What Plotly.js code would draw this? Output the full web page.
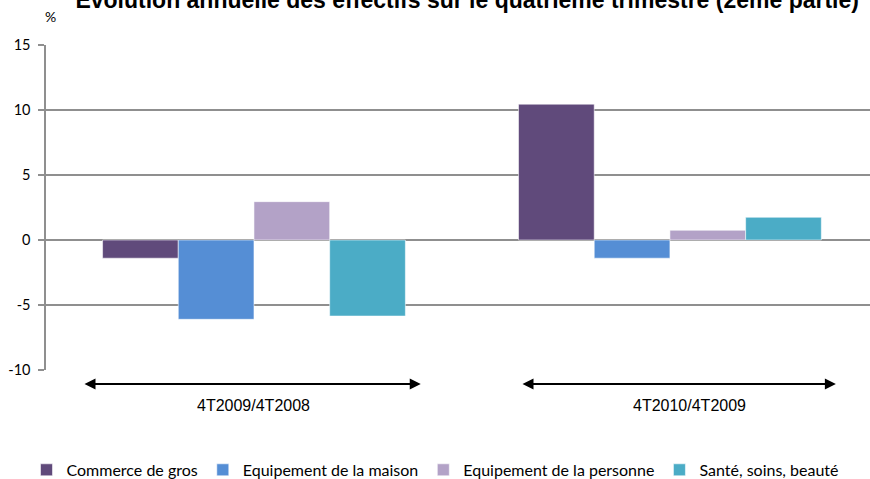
<!DOCTYPE html>
<html>
<head>
<meta charset="utf-8">
<script src="https://cdn.plot.ly/plotly-3.0.1.min.js"></script>
<style>html,body{margin:0;padding:0;background:#fff;}#chart{width:870px;height:479px;}</style>
</head>
<body>
<div id="chart"></div>
<script>
const categories = ["4T2009/4T2008", "4T2010/4T2009"];
const seriesNames = ["Commerce de gros", "Equipement de la maison", "Equipement de la personne", "Santé, soins, beauté"];
const commerceDeGros = [-1.4, 10.45];
const equipementMaison = [-6.1, -1.4];
const equipementPersonne = [2.95, 0.75];
const santeSoinsBeaute = [-5.85, 1.75];
const colors = ["#604A7B", "#558ED5", "#B3A2C7", "#4BACC6"];
const yTicks = [-10, -5, 0, 5, 10, 15];

const allValues = [commerceDeGros, equipementMaison, equipementPersonne, santeSoinsBeaute];
const traces = allValues.map((vals, i) => ({
  type: "bar",
  name: seriesNames[i],
  x: categories,
  y: vals,
  marker: { color: colors[i], line: { color: "rgba(255,255,255,0.55)", width: 1 } },
  hoverinfo: "skip"
}));

const arrows = [
  { from: -0.411, to: 0.401 },
  { from: 0.642, to: 1.399 }
];
const annotations = [];
arrows.forEach(a => {
  annotations.push({
    xref: "x", yref: "paper", axref: "x", ayref: "pixel",
    x: a.to, y: -0.043, ax: a.from, ay: 0,
    showarrow: true, arrowside: "end+start", arrowhead: 2, arrowsize: 1.1,
    arrowwidth: 2, arrowcolor: "#000", standoff: 0, startstandoff: 0, text: ""
  });
});
annotations.push({
  xref: "x", yref: "paper", x: 0, y: -0.108, text: categories[0], showarrow: false,
  font: { family: "Liberation Sans, Arial", size: 16, color: "#000" }, xanchor: "center", yanchor: "middle"
});
annotations.push({
  xref: "x", yref: "paper", x: 1.048, y: -0.108, text: categories[1], showarrow: false,
  font: { family: "Liberation Sans, Arial", size: 16, color: "#000" }, xanchor: "center", yanchor: "middle"
});
annotations.push({
  xref: "paper", yref: "paper", x: 0.005, y: 1.089, text: "%", showarrow: false,
  font: { family: "Lato, Calibri, sans-serif", size: 14, color: "#000" }, xanchor: "center", yanchor: "middle"
});

const layout = {
  width: 870, height: 479,
  margin: { l: 46, r: 0, t: 45, b: 109, autoexpand: false },
  paper_bgcolor: "#fff", plot_bgcolor: "#fff",
  title: {
    text: "Evolution annuelle des effectifs sur le quatrième trimestre (2ème partie)",
    font: { family: "Liberation Sans, Arial, sans-serif", size: 23, color: "#000", weight: "bold" },
    xref: "container", yref: "container", x: 0.537, xanchor: "center", y: 1, yanchor: "middle"
  },
  barmode: "group", bargap: 0.272, bargroupgap: 0,
  showlegend: true,
  legend: {
    orientation: "h", x: 0.5, xref: "container", xanchor: "center", yref: "container", y: 0.019, yanchor: "middle",
    font: { family: "Lato, Calibri, sans-serif", size: 16, color: "#000" },
    traceorder: "normal", itemwidth: 30
  },
  xaxis: {
    type: "category", range: [-0.5, 1.481], showticklabels: false, ticks: "",
    showgrid: false, zeroline: false, showline: false, fixedrange: true
  },
  yaxis: {
    range: [-10, 15], tickvals: yTicks, ticktext: yTicks.map(String),
    showgrid: true, gridcolor: "#8f8f8f", gridwidth: 1.6,
    zeroline: true, zerolinecolor: "#8f8f8f", zerolinewidth: 1.6,
    showline: true, linecolor: "#8f8f8f", linewidth: 1.6,
    ticks: "outside", ticklen: 6, tickcolor: "#8f8f8f", tickwidth: 1.6,
    ticklabelstandoff: 5,
    tickfont: { family: "Lato, Calibri, sans-serif", size: 14.5, color: "#000" }
  },
  annotations: annotations
};

Plotly.newPlot("chart", traces, layout, { staticPlot: true, displayModeBar: false });
</script>
</body>
</html>
